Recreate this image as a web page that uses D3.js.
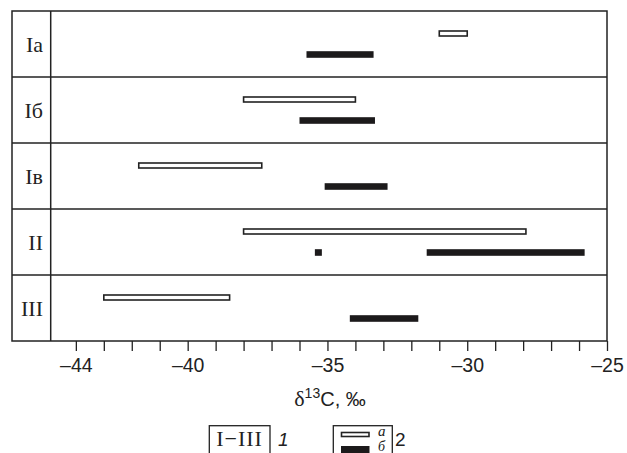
<!DOCTYPE html>
<html>
<head>
<meta charset="utf-8">
<script src="https://cdn.jsdelivr.net/npm/d3@7"></script>
<style>
  body { margin: 0; background: #fff; }
  svg { display: block; }
</style>
</head>
<body>
<svg id="chart" width="627" height="453"></svg>
<script>
  // rows of the table (groups)
  const ROWS = ["Iа", "Iб", "Iв", "II", "III"];

  // a: open bars, one per row
  const openRow = ["Iа", "Iб", "Iв", "II", "III"];
  const openStart = [-31, -38, -41.75, -38, -43];
  const openEnd = [-30, -34, -37.35, -27.9, -38.5];

  // б: filled bars
  const fillRow = ["Iа", "Iб", "Iв", "II", "II", "III"];
  const fillStart = [-35.75, -36, -35.1, -35.45, -31.45, -34.2];
  const fillEnd = [-33.35, -33.3, -32.85, -35.2, -25.8, -31.75];

  const TICKS = d3.range(-44, -24);
  const LABELED = [-44, -40, -35, -30, -25];

  const svg = d3.select('#chart'),
    frameLeft = 12,
    plotLeft = 50.7,
    plotRight = 607,
    topY = 11,
    bottomY = 341,
    ink = '#222';

  const x = d3.scaleLinear().domain([-44.9, -25]).range([plotLeft, plotRight]);
  const y = d3.scaleBand().domain(ROWS).range([topY, bottomY]);
  const sub = d3.scalePoint().domain(['a', 'б']).range([22.5, 43.5]);

  /*
   * frame and row lines
   */
  svg.append('rect')
    .attr('x', frameLeft).attr('y', topY)
    .attr('width', plotRight - frameLeft).attr('height', bottomY - topY)
    .attr('fill', 'none').attr('stroke', ink).attr('stroke-width', 1.5);

  svg.append('line')
    .attr('x1', plotLeft).attr('x2', plotLeft)
    .attr('y1', topY).attr('y2', bottomY)
    .attr('stroke', ink).attr('stroke-width', 1.5);

  svg.selectAll('.sep')
    .data(ROWS.slice(1))
    .enter()
    .append('line')
    .attr('class', 'sep')
    .attr('x1', frameLeft).attr('x2', plotRight)
    .attr('y1', d => y(d)).attr('y2', d => y(d))
    .attr('stroke', ink).attr('stroke-width', 1.5);

  /*
   * row labels
   */
  svg.selectAll('.rowlab')
    .data(ROWS)
    .enter()
    .append('text')
    .attr('class', 'rowlab')
    .attr('x', 43)
    .attr('y', d => y(d) + y.bandwidth() / 2 + 7.5)
    .attr('text-anchor', 'end')
    .attr('font-family', '"Liberation Serif", "DejaVu Serif", serif')
    .attr('font-size', 22)
    .attr('fill', ink)
    .text(d => d);

  /*
   * bars
   */
  svg.selectAll('.open')
    .data(openRow)
    .enter()
    .append('rect')
    .attr('class', 'open')
    .attr('x', (d, i) => x(openStart[i]))
    .attr('width', (d, i) => x(openEnd[i]) - x(openStart[i]))
    .attr('y', d => y(d) + sub('a') - 2.5)
    .attr('height', 5)
    .attr('fill', '#fff')
    .attr('stroke', ink)
    .attr('stroke-width', 1.6);

  svg.selectAll('.fill')
    .data(fillRow)
    .enter()
    .append('rect')
    .attr('class', 'fill')
    .attr('x', (d, i) => x(fillStart[i]))
    .attr('width', (d, i) => x(fillEnd[i]) - x(fillStart[i]))
    .attr('y', d => y(d) + sub('б') - 3.3)
    .attr('height', 6.6)
    .attr('fill', '#1c1a1b');

  /*
   * x axis
   */
  const axis = d3.axisBottom(x)
    .tickValues(TICKS)
    .tickSize(10)
    .tickSizeOuter(0)
    .tickFormat(d => LABELED.includes(d) ? '\u2013' + Math.abs(d) : '');

  const gx = svg.append('g')
    .attr('transform', 'translate(0,' + bottomY + ')')
    .call(axis);
  gx.select('.domain').remove();
  gx.selectAll('line').attr('stroke', ink).attr('stroke-width', 1.3);
  gx.selectAll('text')
    .attr('y', 17)
    .attr('dy', '0.71em')
    .attr('fill', ink)
    .attr('font-family', '"Liberation Sans", Arial, sans-serif')
    .attr('font-size', 19.5);

  const title = svg.append('text')
    .attr('x', 330).attr('y', 406)
    .attr('text-anchor', 'middle')
    .attr('fill', ink)
    .attr('font-family', '"Liberation Sans", Arial, sans-serif')
    .attr('font-size', 20);
  title.append('tspan').attr('font-family', '"Liberation Serif", serif').attr('font-size', 22).text('\u03b4');
  title.append('tspan').attr('dy', -8).attr('font-size', 14).text('13');
  title.append('tspan').attr('dy', 8).text('C, \u2030');

  /*
   * legend
   */
  const lg = svg.append('g');
  lg.append('rect')
    .attr('x', 209.3).attr('y', 425.7).attr('width', 60.7).attr('height', 40)
    .attr('fill', 'none').attr('stroke', ink).attr('stroke-width', 1.3);
  lg.append('text')
    .attr('x', 239.6).attr('y', 446)
    .attr('text-anchor', 'middle')
    .attr('fill', ink)
    .attr('font-family', '"Liberation Serif", serif')
    .attr('font-size', 22)
    .attr('letter-spacing', 1)
    .text('I\u2212III');
  lg.append('text')
    .attr('x', 278).attr('y', 446)
    .attr('fill', ink)
    .attr('font-style', 'italic')
    .attr('font-family', '"Liberation Sans", Arial, sans-serif')
    .attr('font-size', 19)
    .text('1');

  lg.append('rect')
    .attr('x', 333.3).attr('y', 425.7).attr('width', 59).attr('height', 40)
    .attr('fill', 'none').attr('stroke', ink).attr('stroke-width', 1.3);
  lg.append('rect')
    .attr('x', 341.5).attr('y', 432.5).attr('width', 27.5).attr('height', 4)
    .attr('fill', '#fff').attr('stroke', ink).attr('stroke-width', 1.6);
  lg.append('rect')
    .attr('x', 341).attr('y', 446).attr('width', 28.5).attr('height', 8)
    .attr('fill', '#1c1a1b');
  lg.append('text')
    .attr('x', 378).attr('y', 436)
    .attr('fill', ink)
    .attr('font-style', 'italic')
    .attr('font-family', '"Liberation Serif", serif')
    .attr('font-size', 15)
    .text('a');
  lg.append('text')
    .attr('x', 378).attr('y', 451)
    .attr('fill', ink)
    .attr('font-style', 'italic')
    .attr('font-family', '"Liberation Serif", serif')
    .attr('font-size', 14)
    .text('\u0431');
  lg.append('text')
    .attr('x', 395).attr('y', 446)
    .attr('fill', ink)
    .attr('font-family', '"Liberation Sans", Arial, sans-serif')
    .attr('font-size', 19)
    .text('2');
</script>
</body>
</html>
